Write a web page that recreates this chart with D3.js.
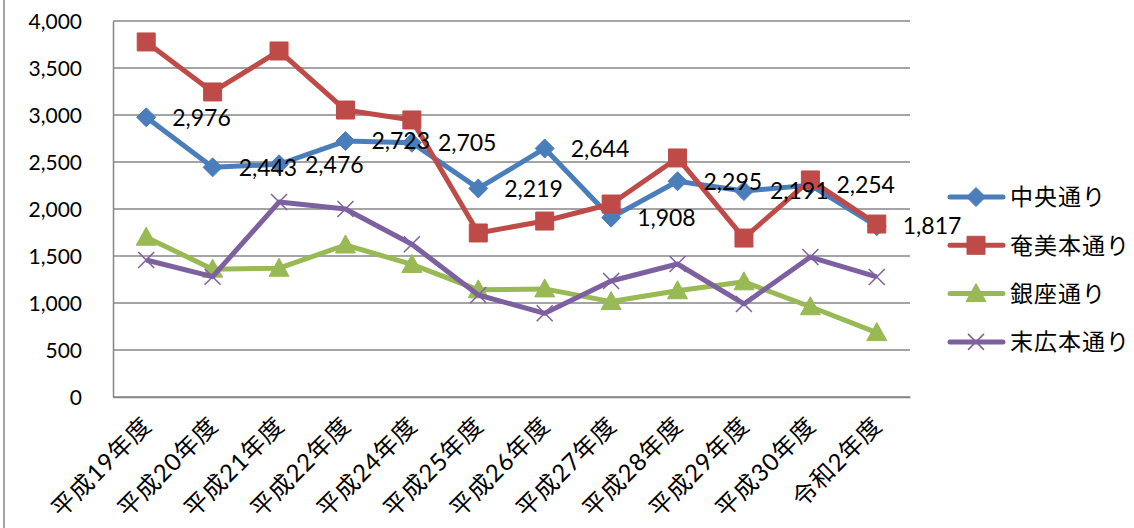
<!DOCTYPE html>
<html lang="ja">
<head>
  <meta charset="UTF-8">
  <title>通行量</title>
  <style>
    body { margin: 0; background: #fff; }
    text { font-family: "Lato", "Noto Sans CJK JP", sans-serif; fill: #000; }
  </style>
</head>
<body>
  <script src="https://d3js.org/d3.v7.min.js"></script>
  <script>
    // data
    let years = ["平成19年度", "平成20年度", "平成21年度", "平成22年度", "平成24年度", "平成25年度",
                 "平成26年度", "平成27年度", "平成28年度", "平成29年度", "平成30年度", "令和2年度"];
    let chuo    = [2976, 2443, 2476, 2723, 2705, 2219, 2644, 1908, 2295, 2191, 2254, 1817];
    let amami   = [3777, 3245, 3681, 3053, 2947, 1745, 1872, 2053, 2543, 1691, 2309, 1840];
    let ginza   = [1700, 1360, 1370, 1617, 1410, 1140, 1150, 1015, 1130, 1225, 960, 685];
    let suehiro = [1457, 1280, 2074, 2000, 1625, 1085, 890, 1234, 1415, 990, 1489, 1277];
    let yTicks = [0, 500, 1000, 1500, 2000, 2500, 3000, 3500, 4000];

    let series = [
      { name: "中央通り", values: chuo, color: "#4A7EBB", marker: "diamond", labels: true },
      { name: "奄美本通り", values: amami, color: "#BE4B48", marker: "square" },
      { name: "銀座通り", values: ginza, color: "#98B954", marker: "triangle" },
      { name: "末広本通り", values: suehiro, color: "#7D60A0", marker: "x" }
    ];

    let width = 1134, height = 528;
    let plotLeft = 113, plotRight = 910, plotTop = 21, plotBottom = 397;

    let svg = d3.select("body").append("svg")
      .attr("width", width)
      .attr("height", height);

    // outer chart frame (only the left edge shows)
    svg.append("line")
      .attr("x1", 4).attr("x2", 4)
      .attr("y1", 0).attr("y2", height)
      .attr("stroke", "#868686")
      .attr("stroke-width", 1.5);

    let x = d3.scaleBand().domain(years).range([plotLeft, plotRight]);
    let y = d3.scaleLinear().domain([0, 4000]).range([plotBottom, plotTop]);
    let cx = d => x(d) + x.bandwidth() / 2;

    // grid lines
    svg.append("g").selectAll("line")
      .data(yTicks)
      .join("line")
      .attr("x1", plotLeft).attr("x2", plotRight)
      .attr("y1", d => y(d)).attr("y2", d => y(d))
      .attr("stroke", "#868686")
      .attr("stroke-width", 1.5);

    // y axis
    let yAxis = svg.append("g")
      .attr("transform", "translate(" + plotLeft + ",0)")
      .call(d3.axisLeft(y).tickValues(yTicks).tickFormat(d3.format(",")).tickSize(0).tickPadding(31));
    yAxis.select(".domain").attr("stroke", "#868686").attr("stroke-width", 1.5);
    yAxis.selectAll("text").style("font-size", "21px").attr("dy", "0.36em");

    // x axis
    let xAxis = svg.append("g")
      .attr("transform", "translate(0," + plotBottom + ")")
      .call(d3.axisBottom(x).tickSize(0).tickFormat(d => d));
    xAxis.select(".domain").attr("stroke", "#868686").attr("stroke-width", 1.5);
    xAxis.selectAll("text")
      .style("font-size", "24px")
      .style("letter-spacing", "1px")
      .attr("text-anchor", "end")
      .attr("dy", null)
      .attr("y", 0)
      .attr("transform", "translate(7,30) rotate(-45)");

    let line = d3.line()
      .x((d, i) => cx(years[i]))
      .y(d => y(d));

    function markerPath(type) {
      if (type == "diamond") return "M0,-9.5L9.5,0L0,9.5L-9.5,0Z";
      if (type == "square") return "M-9,-9H9V9H-9Z";
      if (type == "triangle") return "M0,-10L10,8H-10Z";
      return "M-8,-8L8,8M-8,8L8,-8";
    }

    function drawMarker(g, type, color) {
      let p = g.append("path").attr("d", markerPath(type));
      if (type == "x") {
        p.attr("fill", "none").attr("stroke", color).attr("stroke-width", 1.5);
      } else {
        p.attr("fill", color).attr("stroke", color).attr("stroke-width", 1);
      }
    }

    series.forEach(function(s) {
      svg.append("path")
        .datum(s.values)
        .attr("d", line)
        .attr("fill", "none")
        .attr("stroke", s.color)
        .attr("stroke-width", 5)
        .attr("stroke-linejoin", "round");

      s.values.forEach(function(v, i) {
        let g = svg.append("g")
          .attr("transform", "translate(" + cx(years[i]) + "," + y(v) + ")");
        drawMarker(g, s.marker, s.color);
      });
    });

    // data labels for 中央通り (drawn on top)
    let labelSeries = series.filter(s => s.labels)[0];
    svg.append("g").selectAll("text")
      .data(labelSeries.values)
      .join("text")
      .attr("x", (d, i) => cx(years[i]) + 26)
      .attr("y", d => y(d))
      .attr("dy", "0.36em")
      .style("font-size", "23px")
      .text(d => d3.format(",")(d));

    // legend
    let legend = svg.append("g").selectAll("g")
      .data(series)
      .join("g")
      .attr("transform", (d, i) => "translate(950," + (197 + i * 48.3) + ")");
    legend.append("line")
      .attr("x1", 0).attr("x2", 53)
      .attr("stroke", d => d.color)
      .attr("stroke-width", 5)
      .attr("stroke-linecap", "round");
    legend.each(function(d) {
      let g = d3.select(this).append("g").attr("transform", "translate(26,0)");
      drawMarker(g, d.marker, d.color);
    });
    legend.append("text")
      .attr("x", 60)
      .attr("dy", "0.36em")
      .style("font-size", "23px")
      .style("letter-spacing", "1px")
      .text(d => d.name);
  </script>
</body>
</html>
